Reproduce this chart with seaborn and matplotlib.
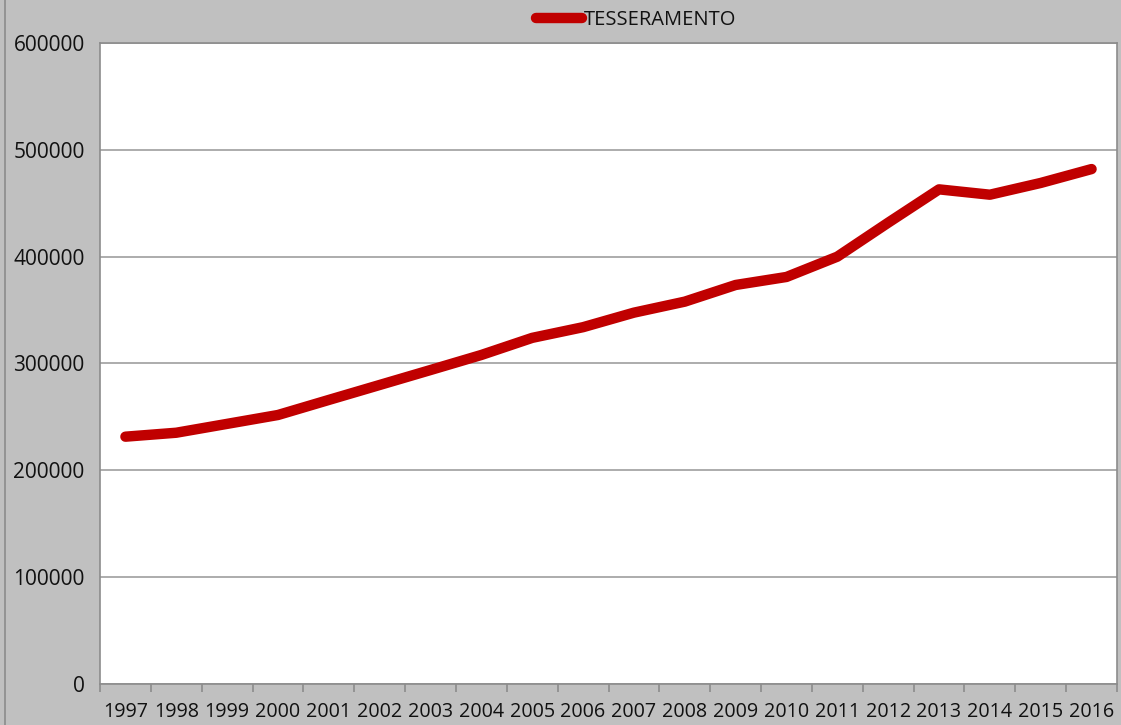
import matplotlib
matplotlib.use("Agg")
import matplotlib.pyplot as plt
import seaborn as sns
import numpy as np
import pandas as pd

years = [str(y) for y in range(1997, 2017)]
tesseramento = [231500, 235200, 243500, 251800, 265900, 279900, 293900, 308000,
                324000, 334000, 347600, 357900, 373500, 381000, 400000, 431800,
                463000, 458000, 469000, 482000]

df = pd.DataFrame({"anno": years, "TESSERAMENTO": tesseramento})

sns.set_style("white")
plt.rcParams['font.family'] = ['Open Sans', 'DejaVu Sans']

fig = plt.figure(figsize=(11.21, 7.25), dpi=100, facecolor='#c0c0c0')
ax = fig.add_axes([100 / 1121, 41 / 725, 1017 / 1121, 641 / 725])
ax.set_facecolor('white')

sns.lineplot(data=df, x='anno', y='TESSERAMENTO', ax=ax, color='#c00000',
             linewidth=7.5, solid_capstyle='round', label='TESSERAMENTO', sort=False)

ax.set_xlim(-0.5, len(years) - 0.5)
ax.set_ylim(0, 600000)
ax.set_yticks(np.arange(0, 600001, 100000))
ax.set_yticklabels([str(v) for v in range(0, 600001, 100000)])
ax.yaxis.grid(True, color='#a6a6a6', linewidth=1.3)
ax.xaxis.grid(False)
ax.set_xlabel('')
ax.set_ylabel('')

# tick marks between categories, labels at centres
ax.set_xticks(np.arange(-0.5, len(years), 1.0), minor=True)
ax.set_xticks(range(len(years)))
ax.set_xticklabels(years)
ax.tick_params(axis='x', which='major', length=0, labelsize=14.2, colors='#111111', pad=13)
ax.tick_params(axis='x', which='minor', length=6, width=1.2, color='#8c8c8c', direction='out', bottom=True)
ax.tick_params(axis='y', length=7, width=1.2, color='#8c8c8c', labelsize=15, labelcolor='#111111', pad=4)

for s in ['left', 'bottom', 'right', 'top']:
    ax.spines[s].set_visible(True)
    ax.spines[s].set_color('#8c8c8c')
    ax.spines[s].set_linewidth(1.2)

ax.get_legend().remove()
h, l = ax.get_legend_handles_labels()
fig.legend(h, l, loc='center', bbox_to_anchor=(636 / 1121, 1 - 20 / 725), frameon=False,
           fontsize=14.5, handlelength=2.3, handletextpad=0.1, labelcolor='#111111')

# thin border at the left edge
fig.add_artist(plt.Line2D([5 / 1121, 5 / 1121], [0, 1], color='#8c8c8c', linewidth=1.2))

fig.savefig('out.png', dpi=100, facecolor=fig.get_facecolor())
